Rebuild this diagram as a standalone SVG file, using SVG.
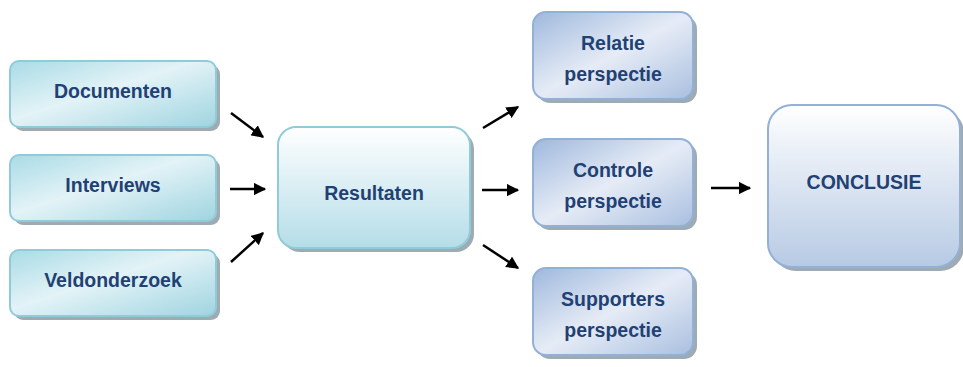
<svg xmlns="http://www.w3.org/2000/svg" width="963" height="367" viewBox="0 0 963 367">
<defs>
<linearGradient id="gCyan" x1="0" y1="0" x2="1" y2="1">
<stop offset="0" stop-color="#a9dbe6"/>
<stop offset="0.45" stop-color="#e3f3f7"/>
<stop offset="1" stop-color="#9fd4e0"/>
</linearGradient>
<linearGradient id="gRes" x1="0" y1="0" x2="0" y2="1">
<stop offset="0" stop-color="#ffffff"/>
<stop offset="1" stop-color="#b5dde8"/>
</linearGradient>
<linearGradient id="gBlue" x1="0" y1="0" x2="1" y2="1">
<stop offset="0" stop-color="#9fb8dd"/>
<stop offset="0.5" stop-color="#e6ecf6"/>
<stop offset="1" stop-color="#a9bfe0"/>
</linearGradient>
<linearGradient id="gCon" x1="0" y1="0" x2="0" y2="1">
<stop offset="0" stop-color="#ffffff"/>
<stop offset="1" stop-color="#b7cae4"/>
</linearGradient>
<marker id="ah" viewBox="0 0 10 10" refX="9" refY="5" markerWidth="5" markerHeight="5" orient="auto" markerUnits="strokeWidth">
<path d="M0,0 L10,5 L0,10 z" fill="#000"/>
</marker>
</defs>
<style>
.sh{fill:#7f8f99;opacity:0.75}
.cy{fill:url(#gCyan);stroke:#8fcbd9;stroke-width:2}
.rs{fill:url(#gRes);stroke:#8fcbd9;stroke-width:2}
.bl{fill:url(#gBlue);stroke:#93b0d6;stroke-width:2}
.cn{fill:url(#gCon);stroke:#93b0d6;stroke-width:2}
text{font-family:"Liberation Sans",Arial,sans-serif;font-weight:bold;font-size:19.5px;fill:#1f4174;text-anchor:middle}
.ar{stroke:#000;stroke-width:2.5;fill:none;marker-end:url(#ah)}
</style>
<g id="documenten">
<rect class="sh" x="14" y="65" width="206" height="66" rx="9"/>
<rect class="cy" x="10" y="61" width="206" height="66" rx="9"/>
<text x="113" y="98">Documenten</text>
</g>
<g id="interviews">
<rect class="sh" x="14" y="159" width="206" height="66" rx="9"/>
<rect class="cy" x="10" y="155" width="206" height="66" rx="9"/>
<text x="113" y="192">Interviews</text>
</g>
<g id="veldonderzoek">
<rect class="sh" x="14" y="254" width="206" height="66" rx="9"/>
<rect class="cy" x="10" y="250" width="206" height="66" rx="9"/>
<text x="113" y="287">Veldonderzoek</text>
</g>
<g id="resultaten">
<rect class="sh" x="282" y="131" width="192" height="121" rx="18"/>
<rect class="rs" x="278" y="127" width="192" height="121" rx="18"/>
<text x="374" y="200">Resultaten</text>
</g>
<g id="relatie">
<rect class="sh" x="537" y="16" width="160" height="87" rx="13"/>
<rect class="bl" x="533" y="12" width="160" height="87" rx="13"/>
<text x="613" y="50">Relatie</text>
<text x="613" y="81">perspectie</text>
</g>
<g id="controle">
<rect class="sh" x="537" y="143" width="160" height="87" rx="13"/>
<rect class="bl" x="533" y="139" width="160" height="87" rx="13"/>
<text x="613" y="177">Controle</text>
<text x="613" y="208">perspectie</text>
</g>
<g id="supporters">
<rect class="sh" x="537" y="272" width="160" height="87" rx="13"/>
<rect class="bl" x="533" y="268" width="160" height="87" rx="13"/>
<text x="613" y="306">Supporters</text>
<text x="613" y="337">perspectie</text>
</g>
<g id="conclusie">
<rect class="sh" x="772" y="109" width="192" height="162" rx="24"/>
<rect class="cn" x="768" y="105" width="192" height="162" rx="24"/>
<text x="864" y="189">CONCLUSIE</text>
</g>
<g id="connectors">
<line class="ar" x1="231" y1="113" x2="263" y2="137"/>
<line class="ar" x1="230" y1="189" x2="265" y2="189"/>
<line class="ar" x1="231" y1="262" x2="263" y2="233"/>
<line class="ar" x1="483" y1="128" x2="518" y2="107"/>
<line class="ar" x1="482" y1="190" x2="518" y2="190"/>
<line class="ar" x1="483" y1="245" x2="518" y2="268"/>
<line class="ar" x1="711" y1="188" x2="750" y2="188"/>
</g>
</svg>
